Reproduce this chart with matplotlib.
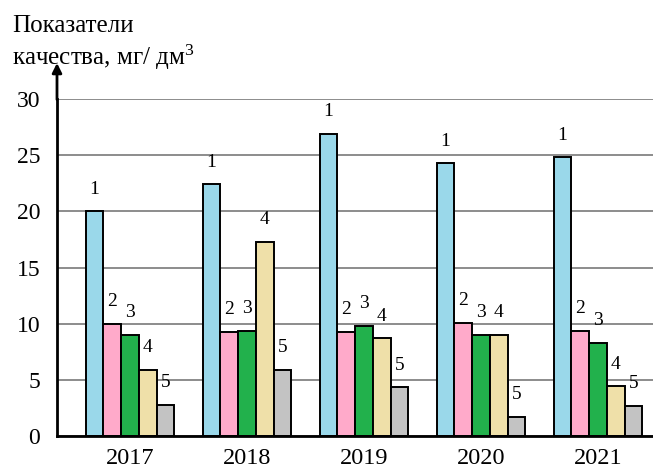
import matplotlib
matplotlib.use("Agg")
import matplotlib.pyplot as plt
import numpy as np

years = ["2017", "2018", "2019", "2020", "2021"]
series_labels = ["1", "2", "3", "4", "5"]
s1 = [20.0, 22.4, 26.9, 24.3, 24.8]
s2 = [10.0, 9.3, 9.3, 10.1, 9.35]
s3 = [9.0, 9.35, 9.8, 9.0, 8.3]
s4 = [5.9, 17.3, 8.7, 9.0, 4.45]
s5 = [2.8, 5.9, 4.35, 1.7, 2.7]
series = [s1, s2, s3, s4, s5]
colors = ["#9AD8EA", "#FFAACA", "#22B14C", "#EFE0A9", "#C3C3C3"]
yticks = [0, 5, 10, 15, 20, 25, 30]

plt.rcParams['font.family'] = ['Liberation Serif', 'DejaVu Serif']
plt.rcParams['mathtext.fontset'] = 'custom'
plt.rcParams['mathtext.rm'] = 'Liberation Serif'
plt.rcParams['mathtext.it'] = 'Liberation Serif'
plt.rcParams['mathtext.default'] = 'rm'

fig = plt.figure(figsize=(6.53, 4.68), dpi=100)
ax = fig.add_axes([57/653, 1-436/468, (653-57)/653, 337/468])

x = np.arange(len(years))
w = 0.152
for i, (vals, c, lab) in enumerate(zip(series, colors, series_labels)):
    xs = x + (i - 2) * w
    ax.bar(xs, vals, width=w, color=c, edgecolor="black", linewidth=1.4, zorder=3)
    for xi, v in zip(xs, vals):
        ax.text(xi, v + 1.2, lab, ha="center", va="bottom", fontsize=14, zorder=4)

ax.set_xlim(-0.624, 4.47)
ax.set_ylim(0, 30)
ax.set_yticks(yticks)
ax.set_yticklabels([str(t) for t in yticks], fontsize=17)
ax.set_xticks(x)
ax.set_xticklabels(years, fontsize=17.5)
ax.tick_params(axis="both", length=0)
ax.tick_params(axis="y", pad=12)
ax.tick_params(axis="x", pad=9)
ax.yaxis.grid(True, color="#8c8c8c", linewidth=1.4)
ax.set_axisbelow(True)
for s in ["top", "right"]:
    ax.spines[s].set_visible(False)
ax.spines["left"].set_linewidth(2)
ax.spines["bottom"].set_linewidth(2)
ax.spines["left"].set_zorder(5)
ax.spines["bottom"].set_zorder(5)

ax.annotate("", xy=(0, 1.115), xytext=(0, 0.99), xycoords="axes fraction",
            arrowprops=dict(arrowstyle="-|>", color="black", lw=2, mutation_scale=14),
            annotation_clip=False)

fig.text(12/653, 1-26/468, "Показатели", fontsize=18, va="center", ha="left")
fig.text(12/653, 1-57/468, "качества, мг/ дм$^{3}$", fontsize=18, va="center", ha="left")

fig.savefig("out.png", dpi=100)
